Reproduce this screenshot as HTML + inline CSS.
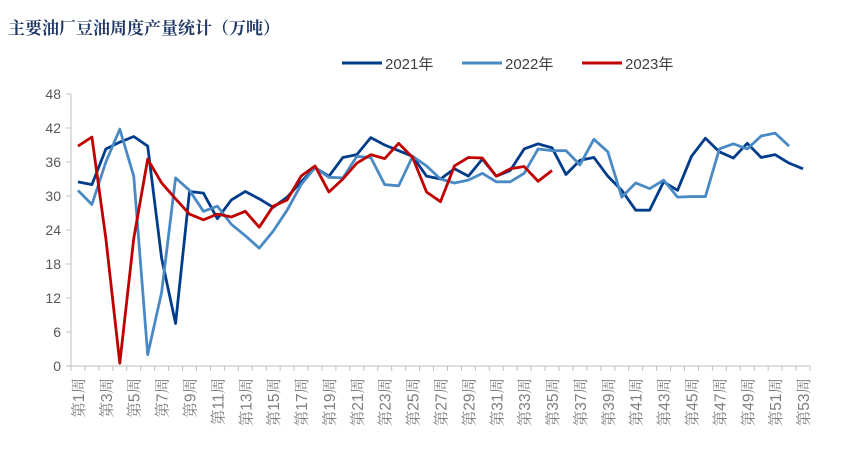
<!DOCTYPE html>
<html><head><meta charset="utf-8"><style>
body{margin:0;background:#fff;width:865px;height:461px;overflow:hidden}
svg text{font-family:"Liberation Sans","Noto Sans CJK SC",sans-serif}
</style></head><body>
<svg id="chart" width="865" height="461" xmlns="http://www.w3.org/2000/svg">
<text x="8" y="34" font-size="17" font-weight="bold" fill="#1f3864" style="font-family:'Noto Serif CJK SC','Noto Sans CJK SC',serif">主要油厂豆油周度产量统计（万吨）</text>
<g>
<line x1="342" y1="63" x2="382" y2="63" stroke="#003c8a" stroke-width="3"/>
<text x="385" y="69" font-size="15" fill="#404040">2021年</text>
<line x1="462" y1="63" x2="502" y2="63" stroke="#4a8ac4" stroke-width="3"/>
<text x="505" y="69" font-size="15" fill="#404040">2022年</text>
<line x1="582" y1="63" x2="622" y2="63" stroke="#c00000" stroke-width="3"/>
<text x="625" y="69" font-size="15" fill="#404040">2023年</text>
</g>
<g id="axes"></g>
<g id="series"></g>
</svg>
<script>
const yTicks=[0,6,12,18,24,30,36,42,48];
const s2021=[32.5,32,38.3,39.5,40.5,38.8,19,7.5,30.8,30.5,26,29.3,30.8,29.5,28,29.8,32.5,35,33.5,36.8,37.3,40.3,39,38,37,33.5,33,34.8,33.5,36.5,33.5,34.5,38.3,39.2,38.5,33.8,36.3,36.8,33.5,31,27.5,27.5,32.5,31,37,40.2,37.8,36.7,39.3,36.8,37.3,35.8,34.8];
const s2022=[31,28.5,36,41.8,33.5,2,13,33.2,31,27.3,28.2,25,23,20.8,23.8,27.5,32,35,33.3,33.2,37,36.8,32,31.8,37,35.3,33,32.3,32.8,34,32.5,32.5,34,38.3,38,38,35.5,40,37.8,29.8,32.3,31.3,32.8,29.8,29.9,29.9,38.3,39.2,38.3,40.6,41.1,38.8];
const s2023=[38.8,40.4,22.5,0.5,22.5,36.5,32.3,29.5,26.8,25.8,26.8,26.3,27.3,24.5,28.2,29.3,33.5,35.3,30.7,33,35.8,37.3,36.6,39.3,36.8,30.7,29,35.3,36.8,36.7,33.5,34.8,35.2,32.6,34.5];
const weeks=[];for(let i=1;i<=53;i++)weeks.push('第'+i+'周');
const NS='http://www.w3.org/2000/svg';
const x0=71,x1=810,y0=366,yTop=94;
const step=(x1-x0)/53;
const X=i=>x0+step*(i+0.5);
const Y=v=>y0-(v/48)*(y0-yTop);
function mk(t,a,p){const e=document.createElementNS(NS,t);for(const k in a)e.setAttribute(k,a[k]);p.appendChild(e);return e;}
const ax=document.getElementById('axes');
const yl=mk('line',{x1:x0,y1:yTop,x2:x0,y2:y0,stroke:'#bfbfbf'},ax);


const xl=mk('line',{x1:x0,y1:y0,x2:x1,y2:y0,stroke:'#bfbfbf'},ax);


yTicks.forEach(v=>{
 mk('line',{x1:x0-5,y1:Y(v),x2:x0,y2:Y(v),stroke:'#bfbfbf'},ax);
 const t=mk('text',{x:x0-10,y:Y(v)+5,'font-size':14,fill:'#595959','text-anchor':'end'},ax);
 
 
 t.textContent=v;
});
for(let i=0;i<=53;i++){mk('line',{x1:x0+step*i,y1:y0,x2:x0+step*i,y2:y0+5,stroke:'#bfbfbf'},ax);}
weeks.forEach((w,i)=>{
 if(i%2)return;
 const x=X(i);
 const t=mk('text',{x:0,y:0,'font-size':15.5,fill:'#7f7f7f','text-anchor':'end',style:"font-family:'Liberation Sans','Noto Serif CJK SC',serif",transform:`translate(${x+6},${y0+12}) rotate(-90)`},ax);
 
 
 t.textContent=w;
});
const sg=document.getElementById('series');
[[s2021,'#003c8a','line-2021'],[s2022,'#4a8ac4','line-2022'],[s2023,'#c00000','line-2023']].forEach(([d,c,n])=>{
 const p=mk('polyline',{points:d.map((v,i)=>X(i)+','+Y(v)).join(' '),fill:'none',stroke:c,'stroke-width':2.8,'stroke-linejoin':'round'},sg);
 
 
});
</script>
</body></html>
